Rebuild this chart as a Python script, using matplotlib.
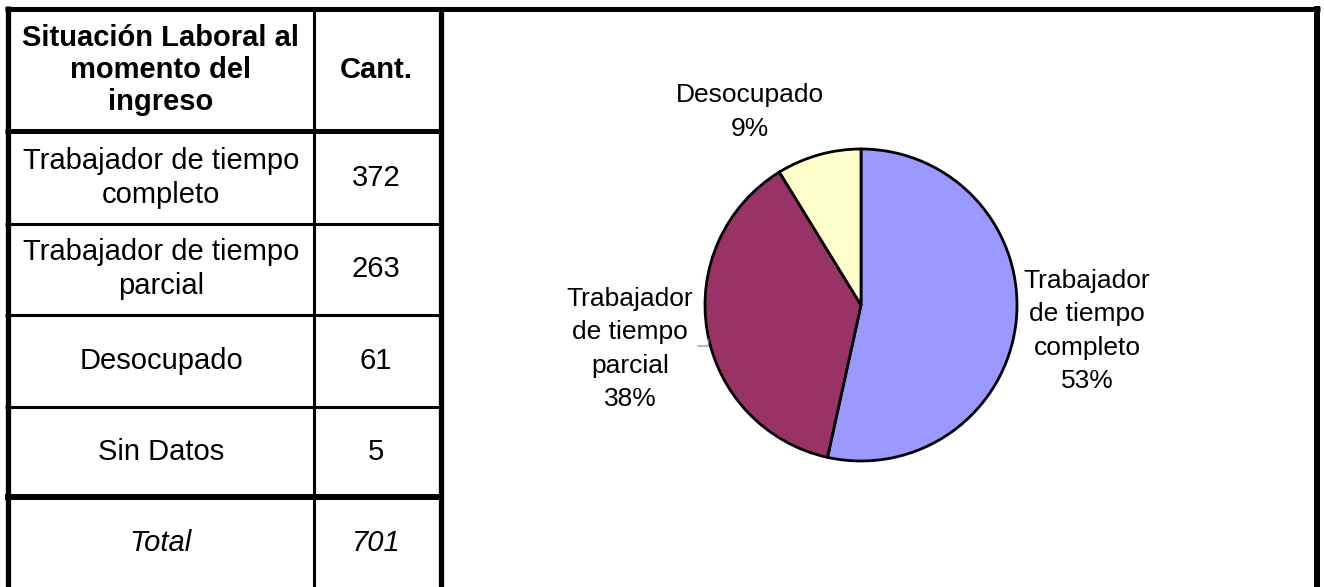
import matplotlib
matplotlib.use("Agg")
import matplotlib.pyplot as plt

plt.rcParams['font.family'] = ['Liberation Sans', 'DejaVu Sans']

# datos de la tabla
categorias = ["Trabajador de tiempo\ncompleto", "Trabajador de tiempo\nparcial",
              "Desocupado", "Sin Datos"]
cantidades = [372, 263, 61, 5]

# datos del grafico (sin "Sin Datos")
pie_labels = ["Trabajador\nde tiempo\ncompleto", "Trabajador\nde tiempo\nparcial", "Desocupado"]
pie_values = [372, 263, 61]
pie_colors = ["#9999FF", "#993366", "#FFFFCC"]

W, H = 1324, 587
fig = plt.figure(figsize=(W / 100, H / 100), dpi=100)
ax = fig.add_axes([0, 0, 1, 1])
ax.set_xlim(0, W)
ax.set_ylim(0, H)
ax.axis('off')


def hline(y, x0, x1, lw):
    ax.plot([x0, x1], [H - y, H - y], color='black', lw=lw, solid_capstyle='butt')


def vline(x, y0, y1, lw):
    ax.plot([x, x], [H - y0, H - y1], color='black', lw=lw, solid_capstyle='butt')


# marco
hline(8.5, 5, 1320, 3.6)
vline(7.5, 6, H, 3.8)
vline(313.5, 8.5, H, 2.2)
vline(441, 8.5, H, 3.8)
vline(1316.5, 6, H, 4.3)
hline(130.5, 5, 443, 3.6)
for y in [223.5, 314.5, 406.5]:
    hline(y, 5, 443, 2.2)
hline(497, 5, 443, 4.3)

# tabla
fs = 21
ax.text(161, H - 70, "Situación Laboral al\nmomento del\ningreso", ha='center', va='center',
        fontsize=fs, fontweight='bold', linespacing=1.2)
ax.text(376, H - 70, "Cant.", ha='center', va='center', fontsize=fs, fontweight='bold')
row_y = [178, 269, 361, 452]
for cat, val, y in zip(categorias, cantidades, row_y):
    ax.text(161, H - y, cat, ha='center', va='center', fontsize=fs, linespacing=1.3)
    ax.text(376, H - y, str(val), ha='center', va='center', fontsize=fs)
ax.text(161, H - 543, "Total", ha='center', va='center', fontsize=fs, style='italic')
ax.text(376, H - 543, str(sum(cantidades)), ha='center', va='center', fontsize=fs, style='italic')

# grafico de torta
cx, cy, r = 861, H - 305, 156
ax.pie(pie_values, colors=pie_colors, startangle=90, counterclock=False,
       center=(cx, cy), radius=r,
       wedgeprops=dict(edgecolor='black', linewidth=2))
ax.set_xlim(0, W)
ax.set_ylim(0, H)
ax.set_aspect('auto')

total = sum(pie_values)
label_pos = [(1087, 331), (630, 349), (750, 112)]
for lab, v, (x, y) in zip(pie_labels, pie_values, label_pos):
    ax.text(x, H - y, "%s\n%d%%" % (lab, round(v / total * 100)), ha='center', va='center',
            fontsize=19, linespacing=1.5)

# linea guia
ax.plot([698, 708, 709], [H - 346, H - 346, H - 339], color='#808080', lw=0.8)

fig.savefig("out.png", dpi=100)
